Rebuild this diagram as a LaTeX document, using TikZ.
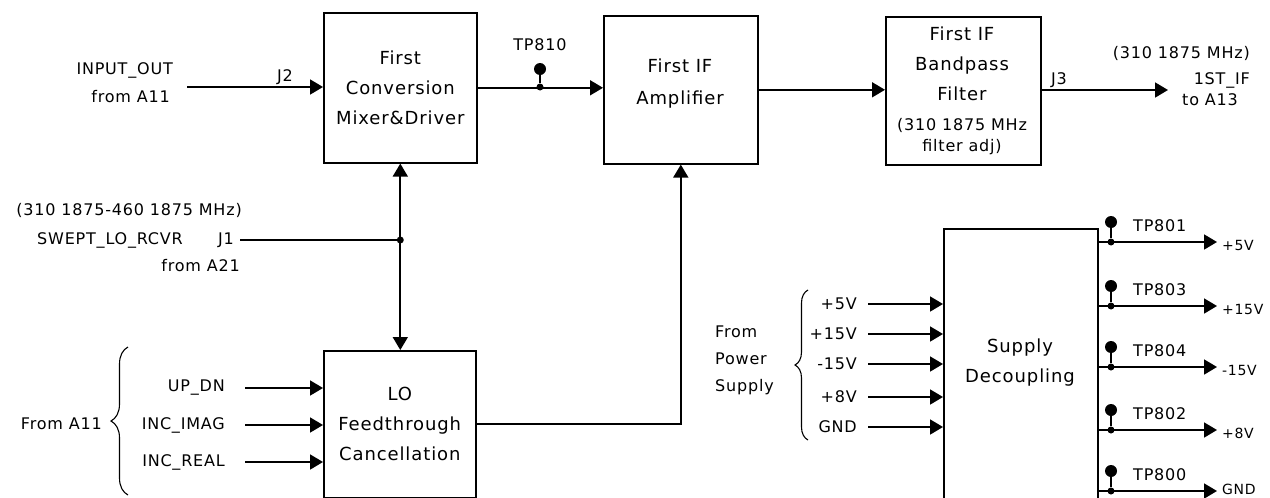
\documentclass[tikz,border=0pt]{standalone}
\usepackage{fontspec}
\setmainfont{DejaVu Sans}[LetterSpace=5]
\usetikzlibrary{arrows.meta,decorations.pathreplacing}
\begin{document}
\begin{tikzpicture}[x=1pt,y=-1pt,
  txt/.style={inner sep=0pt, font=\fontsize{16}{28}\selectfont},
  btxt/.style={inner sep=0pt, align=center, font=\fontsize{18}{30}\selectfont},
  vtxt/.style={inner sep=0pt, anchor=west, font=\fontsize{14}{16}\selectfont},
  blk/.style={draw, line width=1.6pt, anchor=north west, align=center, inner sep=0pt, font=\fontsize{18}{30}\selectfont},
  wire/.style={line width=1.8pt},
  arr/.style={line width=1.8pt, -{Triangle[length=13pt,width=15pt]}},
  jdot/.style={circle, fill, inner sep=0pt, minimum size=7pt},
  tpball/.style={circle, fill, inner sep=0pt, minimum size=12pt},
  brc/.style={line width=1.1pt, decorate, decoration={brace, amplitude=#1}}]
\useasboundingbox (0,0) rectangle (1270,498);
% blocks
\node[blk, minimum width=153pt, minimum height=150pt] (mix) at (323,12) {First\\Conversion\\Mixer\&Driver};
\node[blk, minimum width=154pt, minimum height=148pt] (amp) at (603,15) {};
\node[btxt] (amptxt) at (680,84) {First IF\\[2pt]Amplifier};
\node[blk, minimum width=155pt, minimum height=148pt] (bpf) at (885,16) {};
\node[btxt] (bpftxt) at (962,91) {First IF\\Bandpass\\Filter\\{\fontsize{16}{20}\selectfont(310 1875 MHz}\\[-9pt]{\fontsize{16}{20}\selectfont filter adj)}};
\node[blk, minimum width=152pt, minimum height=147pt] (lo) at (323,350) {LO\\Feedthrough\\Cancellation};
\node[blk, minimum width=154pt, minimum height=290pt] (sup) at (943,228) {};
\node[btxt] (suptxt) at (1020,363) {Supply\\Decoupling};
% input to mixer
\node[txt, anchor=east] (inout) at (173,70) {INPUT\_OUT};
\node[txt, anchor=east] (froma11) at (170,97) {from A11};
\node[txt] (j2) at (285,77) {J2};
\coordinate (inA) at (187,87);
\draw[arr] (inA) -- (mix.west |- inA);
% mixer to amplifier with TP810
\draw[arr] (mix.east) -- (mix.east -| amp.west);
\node[jdot] (d810) at (540,87) {};
\node[tpball] (b810) at (540,69) {};
\draw[wire] (d810) -- (b810);
\node[txt] (tp810) at (540,45) {TP810};
% amplifier to filter
\draw[arr] (amp.east) -- (amp.east -| bpf.west);
% filter output
\node[txt] (j3) at (1059,80) {J3};
\coordinate (outIF) at (1168,90);
\draw[arr] (bpf.east |- outIF) -- (outIF);
\node[txt, anchor=east] (mhz) at (1250,53) {(310 1875 MHz)};
\node[txt, anchor=east] (stif) at (1250,80) {1ST\_IF};
\node[txt, anchor=west] (toa13) at (1182,100) {to A13};
% swept LO
\node[txt, anchor=east] (swmhz) at (242,210) {(310 1875-460 1875 MHz)};
\node[txt, anchor=east] (swept) at (183,240) {SWEPT\_LO\_RCVR};
\node[txt] (j1) at (226,240) {J1};
\node[txt, anchor=east] (froma21) at (240,266) {from A21};
\coordinate (j1s) at (240,240);
\coordinate (jn) at (mix.south |- j1s);
\draw[wire] (j1s) -- (jn);
\draw[arr] (jn) -- (mix.south);
\draw[arr] (jn) -- (jn |- lo.north);
\node[jdot] (djn) at (jn) {};
% LO to amplifier
\draw[arr] (lo.east) -| (amp.south);
% LO inputs
\foreach \yy/\nm/\tx in {388/up/UP\_DN, 425/imag/INC\_IMAG, 462/real/INC\_REAL}{
  \node[txt, anchor=east] (l\nm) at (225,\yy) {\tx};
  \coordinate (c\nm) at (245,\yy);
  \draw[arr] (c\nm) -- (lo.west |- c\nm);
}
\draw[brc=17pt] (128,495) -- (128,347);
\node[txt, anchor=east] (fa11) at (102,424) {From A11};
% supply inputs
\foreach \yy/\nm/\tx in {304/pa/+5V, 334/pb/+15V, 364/pc/-15V, 397/pd/+8V, 427/pe/GND}{
  \node[txt, anchor=east] (l\nm) at (857,\yy) {\tx};
  \coordinate (c\nm) at (868,\yy);
  \draw[arr] (c\nm) -- (sup.west |- c\nm);
}
\draw[brc=13pt] (808,440) -- (808,290);
\node[txt, anchor=west, align=left] (fps) at (715,360) {From\\[-1pt]Power\\[-1pt]Supply};
% supply outputs
\foreach \yy/\tp/\tx [count=\i] in {242/TP801/+5V, 306/TP803/+15V, 367/TP804/-15V, 430/TP802/+8V, 491/TP800/GND}{
  \coordinate (o\i) at (1217,\yy);
  \draw[arr] (sup.east |- o\i) -- (o\i);
  \node[jdot] (d\i) at (1111,\yy) {};
  \node[tpball] (b\i) at (1111,\yy-20) {};
  \draw[wire] (d\i) -- (b\i);
  \node[txt, anchor=west] (t\i) at (1133,\yy-16) {\tp};
}
\node[vtxt] (v1) at (1222,245) {+5V};
\node[vtxt] (v2) at (1222,309) {+15V};
\node[vtxt] (v3) at (1222,370) {-15V};
\node[vtxt] (v4) at (1222,433) {+8V};
\node[vtxt] (v5) at (1222,489) {GND};
\end{tikzpicture}
\end{document}
